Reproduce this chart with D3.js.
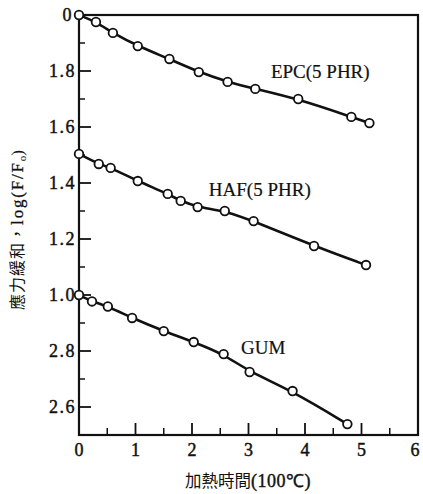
<!DOCTYPE html>
<html>
<head>
<meta charset="utf-8">
<script src="https://cdn.jsdelivr.net/npm/d3@7"></script>
<style>
  html, body { margin: 0; padding: 0; background: #fff; }
  svg { display: block; }
  .tick-label { font-family: "Liberation Serif", "DejaVu Serif", serif; font-size: 18px; fill: #111; stroke: #111; stroke-width: 0.45px; }
  .series-label { font-family: "Liberation Serif", "DejaVu Serif", serif; font-size: 19px; fill: #111; stroke: #111; stroke-width: 0.2px; }
</style>
</head>
<body>
<svg id="chart" width="423" height="494"></svg>
<script>
// Stress relaxation curves, three compounds stacked on one offset axis.
// Axis units: top of frame = 2.0, bottom of frame = 0.5 (lower block relabelled 2.8, 2.6).

const epcTime  = [0, 0.3, 0.6, 1.04, 1.6, 2.12, 2.63, 3.12, 3.88, 4.82, 5.14];
const epcValue = [2.0, 1.975, 1.936, 1.889, 1.843, 1.796, 1.761, 1.736, 1.70, 1.636, 1.614];

const hafTime  = [0, 0.35, 0.56, 1.04, 1.57, 1.8, 2.1, 2.58, 3.09, 4.16, 5.08];
const hafValue = [1.504, 1.468, 1.454, 1.407, 1.361, 1.336, 1.314, 1.30, 1.264, 1.175, 1.107];

const gumTime  = [0, 0.23, 0.51, 0.94, 1.5, 2.03, 2.56, 3.02, 3.78, 4.75];
const gumValue = [1.0, 0.977, 0.959, 0.918, 0.871, 0.832, 0.789, 0.725, 0.657, 0.539];

const seriesNames = ["EPC(5 PHR)", "HAF(5 PHR)", "GUM"];

const xTickValues = [0, 1, 2, 3, 4, 5, 6];
const xMinorTicks = [0.5, 1.5, 2.5, 3.5, 4.5, 5.5];
const yTickValues = [2.0, 1.8, 1.6, 1.4, 1.2, 1.0, 0.8, 0.6];
const yTickLabels = ["0", "1.8", "1.6", "1.4", "1.2", "1.0", "2.8", "2.6"];
const yMinorTicks = [1.9, 1.7, 1.5, 1.3, 1.1, 0.9, 0.7];

const xTitleCJK = "加熱時間";
const xTitleUnit = "(100℃)";
const yTitleCJK = "應力緩和，";
const yTitleLatin = "log(F/F";

const svg = d3.select("#chart");
const plotLeft = 79, plotRight = 418, plotTop = 15, plotBottom = 435;

const x = d3.scaleLinear().domain([0, 6]).range([plotLeft, plotRight]);
const y = d3.scaleLinear().domain([0.5, 2.0]).range([plotBottom, plotTop]);

// frame
svg.append("rect")
  .attr("x", x(0)).attr("y", y(2.0))
  .attr("width", x(6) - x(0)).attr("height", y(0.5) - y(2.0))
  .attr("fill", "none").attr("stroke", "#111").attr("stroke-width", 2.2);

// left axis: ticks pointing inward
const yAxis = svg.append("g").attr("transform", `translate(${x(0)},0)`);
yAxis.selectAll("line.major").data(yTickValues.slice(1)).join("line")
  .attr("class", "major")
  .attr("x1", 0).attr("x2", 12)
  .attr("y1", d => y(d)).attr("y2", d => y(d))
  .attr("stroke", "#111").attr("stroke-width", 1.8);
yAxis.selectAll("line.minor").data(yMinorTicks).join("line")
  .attr("class", "minor")
  .attr("x1", 0).attr("x2", 6)
  .attr("y1", d => y(d)).attr("y2", d => y(d))
  .attr("stroke", "#111").attr("stroke-width", 1.5);
yAxis.selectAll("text").data(yTickValues).join("text")
  .attr("class", "tick-label")
  .attr("x", (d, i) => i === 0 ? -6 : -3)
  .attr("y", d => y(d))
  .attr("dy", "0.35em")
  .attr("text-anchor", "end")
  .attr("letter-spacing", "1.5px")
  .text((d, i) => yTickLabels[i]);

// bottom axis: ticks pointing upward
const xAxis = svg.append("g").attr("transform", `translate(0,${y(0.5)})`);
xAxis.selectAll("line.major").data(xTickValues.slice(1, -1)).join("line")
  .attr("class", "major")
  .attr("x1", d => x(d)).attr("x2", d => x(d))
  .attr("y1", 0).attr("y2", -12)
  .attr("stroke", "#111").attr("stroke-width", 1.8);
xAxis.selectAll("line.minor").data(xMinorTicks).join("line")
  .attr("class", "minor")
  .attr("x1", d => x(d)).attr("x2", d => x(d))
  .attr("y1", 0).attr("y2", -7)
  .attr("stroke", "#111").attr("stroke-width", 1.5);
xAxis.selectAll("text").data(xTickValues).join("text")
  .attr("class", "tick-label")
  .attr("x", d => x(d) - (d === 6 ? 3 : 0))
  .attr("y", 21)
  .attr("text-anchor", "middle")
  .text(d => d);

// axis titles
const xTitle = svg.append("text")
  .attr("x", 248).attr("y", 487)
  .attr("text-anchor", "middle")
  .attr("fill", "#111");
xTitle.append("tspan")
  .attr("font-family", "'Noto Sans CJK TC', 'Noto Sans CJK JP', sans-serif")
  .attr("font-size", 16.5)
  .text(xTitleCJK);
xTitle.append("tspan")
  .attr("font-family", "'Liberation Serif', serif")
  .attr("font-size", 18)
  .attr("stroke", "#111").attr("stroke-width", 0.4)
  .attr("letter-spacing", "0.5px")
  .text(xTitleUnit);

const yTitle = svg.append("text")
  .attr("transform", "translate(23,230) rotate(-90)")
  .attr("text-anchor", "middle")
  .attr("fill", "#111");
yTitle.append("tspan")
  .attr("font-family", "'Noto Sans CJK TC', 'Noto Sans CJK JP', sans-serif")
  .attr("font-size", 16)
  .attr("letter-spacing", "1px")
  .text(yTitleCJK);
yTitle.append("tspan")
  .attr("font-family", "'Liberation Serif', serif")
  .attr("font-size", 17)
  .attr("stroke", "#111").attr("stroke-width", 0.3)
  .attr("letter-spacing", "1.8px")
  .text(yTitleLatin);
yTitle.append("tspan")
  .attr("font-family", "'Liberation Serif', serif")
  .attr("font-size", 11)
  .attr("dy", 3)
  .text("o");
yTitle.append("tspan")
  .attr("font-family", "'Liberation Serif', serif")
  .attr("font-size", 17)
  .attr("dy", -3)
  .text(")");

// curves and markers
const series = [
  { name: seriesNames[0], t: epcTime, v: epcValue, lx: 4.27, ly: 1.775 },
  { name: seriesNames[1], t: hafTime, v: hafValue, lx: 3.2, ly: 1.355 },
  { name: seriesNames[2], t: gumTime, v: gumValue, lx: 3.26, ly: 0.79 }
];

const line = d3.line()
  .x(d => x(d[0]))
  .y(d => y(d[1]))
  .curve(d3.curveBasis);

series.forEach(s => {
  const pts = s.t.map((t, i) => [t, s.v[i]]);
  svg.append("path")
    .datum(pts)
    .attr("d", line)
    .attr("fill", "none")
    .attr("stroke", "#111")
    .attr("stroke-width", 2.6);
  svg.append("g").selectAll("circle").data(pts).join("circle")
    .attr("cx", d => x(d[0]))
    .attr("cy", d => y(d[1]))
    .attr("r", 4.3)
    .attr("fill", "#fff")
    .attr("stroke", "#111")
    .attr("stroke-width", 1.8);
  svg.append("text")
    .attr("class", "series-label")
    .attr("x", x(s.lx))
    .attr("y", y(s.ly))
    .attr("text-anchor", "middle")
    .text(s.name);
});
</script>
</body>
</html>
